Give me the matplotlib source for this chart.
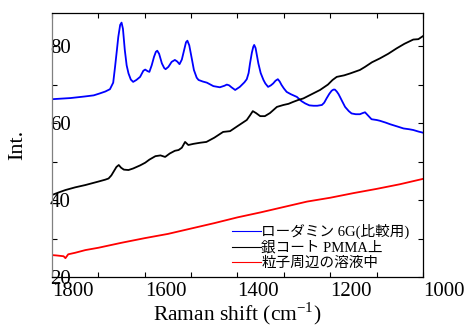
import numpy as np
import matplotlib
matplotlib.use('Agg')
import matplotlib.pyplot as plt
from matplotlib.lines import Line2D
from matplotlib.ticker import MultipleLocator

# ローダミン6G (比較用)
blue_x = [1800, 1760, 1730, 1710, 1697, 1685, 1675, 1668, 1664, 1660, 1657, 1653, 1650, 1647, 1643,
          1639, 1635, 1630, 1625, 1618, 1610, 1603, 1599, 1594, 1590, 1585, 1580, 1576, 1573, 1569,
          1563, 1558, 1555, 1549, 1542, 1535, 1530, 1525, 1520, 1515, 1511, 1508, 1504, 1498, 1494,
          1488, 1484, 1475, 1466, 1452, 1438, 1428, 1423, 1418, 1413, 1405, 1395, 1385, 1380, 1376,
          1373, 1369, 1366, 1364, 1361, 1358, 1355, 1350, 1344, 1340, 1334, 1328, 1323, 1318, 1313,
          1309, 1305, 1300, 1294, 1285, 1272, 1262, 1254, 1245, 1236, 1228, 1218, 1213, 1208, 1202,
          1197, 1193, 1190, 1186, 1182, 1179, 1174, 1168, 1160, 1154, 1145, 1136, 1130, 1125, 1118,
          1111, 1100, 1093, 1080, 1071, 1055, 1042, 1030, 1021, 1010, 1000]
blue_y = [66.2, 66.5, 66.9, 67.2, 67.7, 68.2, 68.8, 70.5, 74.6, 79.0, 82.4, 85.5, 86.1, 84.5, 79.0,
          75.0, 72.9, 71.3, 70.7, 71.2, 72.0, 73.6, 73.9, 73.5, 73.3, 75.0, 77.2, 78.5, 78.8, 78.0,
          75.5, 74.3, 74.0, 74.6, 75.9, 76.4, 76.0, 75.3, 76.5, 79.0, 81.0, 81.4, 80.2, 76.4, 73.8,
          71.8, 71.2, 70.8, 70.5, 69.6, 69.3, 69.7, 70.0, 69.8, 69.3, 68.6, 69.4, 70.6, 71.4, 73.0,
          75.5, 78.3, 79.8, 80.3, 79.5, 77.5, 75.5, 73.0, 71.2, 70.3, 69.4, 69.8, 70.3, 71.0, 71.4,
          70.8, 69.9, 69.0, 68.1, 67.5, 66.8, 65.7, 65.1, 64.6, 64.5, 64.5, 64.7, 65.3, 66.4, 67.6,
          68.4, 68.7, 68.7, 68.2, 67.5, 66.8, 65.6, 64.2, 63.1, 62.5, 62.3, 62.3, 62.6, 62.8, 61.9,
          61.0, 60.8, 60.6, 60.1, 59.7, 59.1, 58.6, 58.4, 58.2, 57.8, 57.5]

# 銀コート PMMA上
black_x = [1800, 1785, 1771, 1750, 1728, 1700, 1685, 1678, 1672, 1667, 1661, 1656, 1651, 1645, 1635,
           1625, 1610, 1599, 1590, 1577, 1566, 1556, 1546, 1535, 1527, 1520, 1513, 1506, 1495, 1480,
           1467, 1450, 1431, 1416, 1400, 1390, 1380, 1373, 1367, 1360, 1351, 1341, 1330, 1315, 1301,
           1290, 1280, 1269, 1258, 1240, 1222, 1205, 1195, 1186, 1170, 1157, 1136, 1125, 1110, 1093,
           1075, 1057, 1040, 1021, 1010, 1000]
black_y = [41.3, 42.0, 42.6, 43.3, 43.9, 44.8, 45.3, 45.6, 46.4, 47.4, 48.6, 49.1, 48.4, 47.9, 47.8,
           48.2, 49.0, 49.7, 50.5, 51.4, 51.6, 51.2, 52.1, 52.8, 53.0, 53.6, 55.1, 54.3, 54.6, 54.9,
           55.1, 56.2, 57.7, 57.9, 59.2, 60.0, 60.8, 62.0, 63.1, 62.6, 61.8, 61.8, 62.6, 64.2, 64.7,
           65.0, 65.5, 66.0, 66.4, 67.5, 68.6, 70.0, 71.2, 72.0, 72.4, 72.9, 73.8, 74.6, 75.8, 76.8,
           78.0, 79.4, 80.6, 81.7, 81.8, 82.6]

# 粒子周辺の溶液中
red_x = [1800, 1790, 1775, 1771, 1765, 1750, 1728, 1700, 1650, 1600, 1550, 1500, 1450, 1400, 1350,
         1300, 1250, 1200, 1150, 1100, 1050, 1000]
red_y = [25.7, 25.6, 25.4, 24.9, 25.9, 26.3, 27.0, 27.6, 28.9, 30.1, 31.2, 32.6, 34.0, 35.5, 36.8,
         38.2, 39.6, 40.6, 41.8, 42.9, 44.1, 45.5]

labels = ['ローダミン 6G(比較用)', '銀コート PMMA上', '粒子周辺の溶液中']
colors = ['#0000ff', '#000000', '#ff0000']

plt.rcParams['font.family'] = ['Liberation Serif', 'Noto Sans CJK JP']
plt.rcParams['mathtext.fontset'] = 'custom'
plt.rcParams['mathtext.rm'] = 'Liberation Serif'

fig = plt.figure(figsize=(4.7, 3.29), dpi=100)
ax = fig.add_axes([0.1106, 0.158, 0.7894, 0.8025])

ax.plot(blue_x, blue_y, color=colors[0], lw=1.3)
ax.plot(black_x, black_y, color=colors[1], lw=1.3)
ax.plot(red_x, red_y, color=colors[2], lw=1.3)

ax.set_xlim(1800, 1000)
ax.set_ylim(20, 88.6)
ax.xaxis.set_major_locator(MultipleLocator(200))
ax.xaxis.set_minor_locator(MultipleLocator(100))
ax.yaxis.set_major_locator(MultipleLocator(20))
ax.yaxis.set_minor_locator(MultipleLocator(10))
ax.tick_params(which='both', direction='in', top=True, right=True, length=3.5, width=0.8)
ax.tick_params(axis='x', labelsize=15, pad=3.5)
ax.tick_params(axis='y', labelsize=15, pad=1.5)
plt.setp(ax.get_xticklabels(), ha='left')
plt.setp(ax.get_yticklabels(), ha='left')
for s in ax.spines.values():
    s.set_linewidth(0.9)
ax.spines['left'].set_color('#808080')

ax.set_xlabel('Raman shift (cm$^{-1}$)', fontsize=15.5)
ax.xaxis.set_label_coords(0.5, -0.087)
ax.xaxis.label.set_va('top')
ax.set_ylabel('Int.', fontsize=16)
ax.yaxis.set_label_coords(-0.067, 0.5)

handles = [Line2D([], [], color=c, lw=0.8) for c in colors]
ax.legend(handles, labels, loc='upper left', bbox_to_anchor=(0.485, 0.2), frameon=False,
          fontsize=10.5, handlelength=2.0, handletextpad=0.0, labelspacing=0.12,
          borderpad=0, borderaxespad=0)

plt.savefig('out.png', dpi=100)
